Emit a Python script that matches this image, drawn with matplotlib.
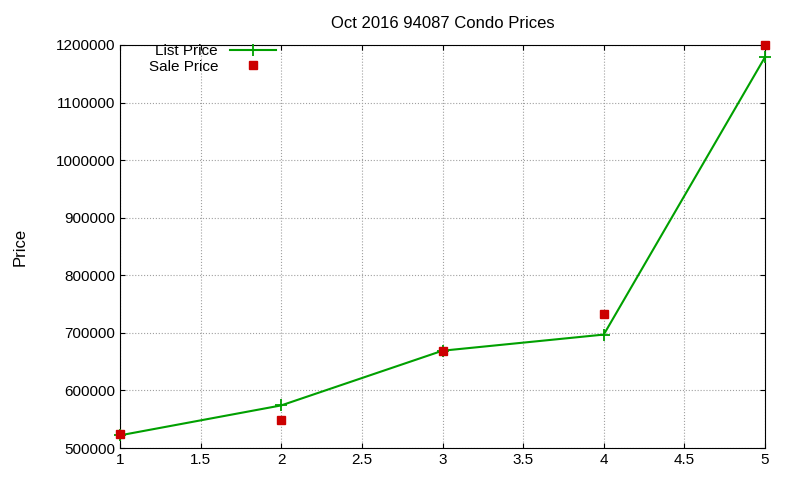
import matplotlib
matplotlib.use("Agg")
import matplotlib.pyplot as plt

x = [1, 2, 3, 4, 5]
list_price = [522000, 574000, 669000, 697000, 1179000]
sale_price = [524000, 549000, 669000, 732000, 1200000]
yticks = [500000, 600000, 700000, 800000, 900000, 1000000, 1100000, 1200000]
xticks = [1, 1.5, 2, 2.5, 3, 3.5, 4, 4.5, 5]

plt.rcParams['font.family'] = ['Liberation Sans', 'DejaVu Sans']
fig = plt.figure(figsize=(8, 4.8), dpi=100)
ax = fig.add_axes([120/800, 1-448/480, 645/800, 403/480])
ax.plot(x, list_price, color='#00a000', lw=1.5, marker='+', ms=8, mew=1.3, label='List Price', clip_on=False, zorder=3)
ax.plot(x, sale_price, ls='none', marker='s', ms=6, color='#cc0000', label='Sale Price', clip_on=False, zorder=4)
ax.set_xlim(1, 5)
ax.set_ylim(500000, 1200000)
ax.set_xticks(xticks)
ax.set_xticklabels([f"{t:g}" for t in xticks])
ax.set_yticks(yticks)
ax.set_yticklabels([str(t) for t in yticks])
ax.tick_params(direction='in', labelsize=11, top=True, right=True)
ax.grid(True, color='#a0a0a0', ls=':', lw=0.8)
ax.set_ylabel('Price', fontsize=12, labelpad=20)
ax.set_title('Oct 2016 94087 Condo Prices', fontsize=12, pad=12)
leg = ax.legend(loc='upper left', bbox_to_anchor=(0.03, 1.025), frameon=False, fontsize=11,
                markerfirst=False, handlelength=3, borderpad=0.1, labelspacing=0.1)
for t in leg.get_texts():
    t.set_ha('right')
fig.savefig('out.png', dpi=100)
